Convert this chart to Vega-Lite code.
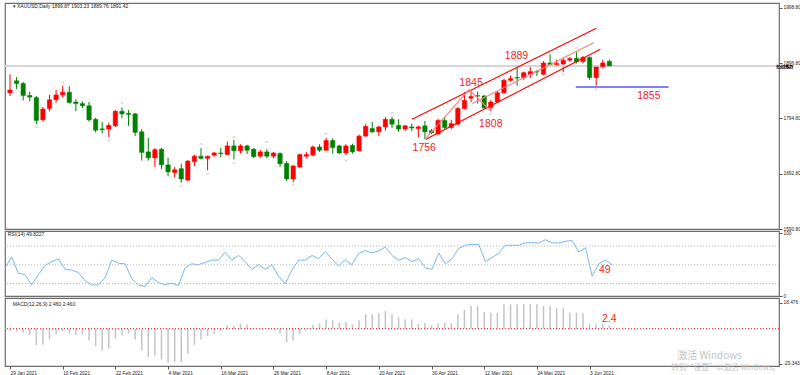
{
"$schema": "https://vega.github.io/schema/vega-lite/v6.json",
"background": "white",
"padding": {"left": 2, "top": 2, "right": 0, "bottom": 0},
"spacing": 2,
"bounds": "flush",
"config": {
  "view": {"stroke": "#6e6e6e", "strokeWidth": 1.2},
  "text": {"font": "Liberation Sans"},
  "axis": {"labelFont": "Liberation Sans", "labelFontSize": 4.8, "labelColor": "#1a1a1a", "tickColor": "#555555", "tickSize": 3, "labelPadding": 1, "grid": false, "domain": false, "labelOverlap": false, "labelBound": false, "labelFlush": false}
},
"datasets": {
  "bars": [
    {"i":0,"d":"2021-01-29","o":1842,"h":1876,"l":1836,"c":1847,"rsi":45.0,"macd":-1.5},
    {"i":1,"d":"2021-02-01","o":1864,"h":1871,"l":1849,"c":1859,"rsi":62.4,"macd":-2.15},
    {"i":2,"d":"2021-02-02","o":1859,"h":1862,"l":1828,"c":1837,"rsi":36.6,"macd":-2.87},
    {"i":3,"d":"2021-02-03","o":1837,"h":1844,"l":1826,"c":1834,"rsi":34.1,"macd":-4.54},
    {"i":4,"d":"2021-02-04","o":1833,"h":1836,"l":1784,"c":1791,"rsi":17.7,"macd":-11.71},
    {"i":5,"d":"2021-02-05","o":1792,"h":1816,"l":1789,"c":1812,"rsi":34.1,"macd":-11.23},
    {"i":6,"d":"2021-02-08","o":1813,"h":1838,"l":1808,"c":1829,"rsi":49.0,"macd":-7.65},
    {"i":7,"d":"2021-02-09","o":1829,"h":1847,"l":1824,"c":1838,"rsi":54.9,"macd":-4.06},
    {"i":8,"d":"2021-02-10","o":1838,"h":1855,"l":1833,"c":1843,"rsi":58.9,"macd":-1.67},
    {"i":9,"d":"2021-02-11","o":1843,"h":1854,"l":1822,"c":1824,"rsi":43.0,"macd":-3.35},
    {"i":10,"d":"2021-02-12","o":1825,"h":1830,"l":1808,"c":1822,"rsi":41.5,"macd":-4.54},
    {"i":11,"d":"2021-02-15","o":1822,"h":1826,"l":1814,"c":1818,"rsi":37.6,"macd":-4.06},
    {"i":12,"d":"2021-02-16","o":1818,"h":1825,"l":1789,"c":1792,"rsi":24.2,"macd":-8.37},
    {"i":13,"d":"2021-02-17","o":1793,"h":1796,"l":1769,"c":1773,"rsi":17.7,"macd":-12.43},
    {"i":14,"d":"2021-02-18","o":1775.5,"h":1788,"l":1767,"c":1774,"rsi":17.7,"macd":-15.54},
    {"i":15,"d":"2021-02-19","o":1775,"h":1787,"l":1760,"c":1782,"rsi":29.1,"macd":-14.1},
    {"i":16,"d":"2021-02-22","o":1781,"h":1810,"l":1779,"c":1808,"rsi":57.4,"macd":-7.17},
    {"i":17,"d":"2021-02-23","o":1808,"h":1815,"l":1795,"c":1803,"rsi":52.5,"macd":-4.78},
    {"i":18,"d":"2021-02-24","o":1804,"h":1810,"l":1781,"c":1802,"rsi":51.5,"macd":-3.59},
    {"i":19,"d":"2021-02-25","o":1803,"h":1805,"l":1762,"c":1769,"rsi":27.7,"macd":-7.65},
    {"i":20,"d":"2021-02-26","o":1770,"h":1775,"l":1717,"c":1732,"rsi":17.7,"macd":-15.54},
    {"i":21,"d":"2021-03-01","o":1733,"h":1759,"l":1717,"c":1722,"rsi":15.2,"macd":-20.3},
    {"i":22,"d":"2021-03-02","o":1722,"h":1740,"l":1705,"c":1737,"rsi":29.1,"macd":-19.1},
    {"i":23,"d":"2021-03-03","o":1738,"h":1740,"l":1701,"c":1709,"rsi":21.7,"macd":-22.0},
    {"i":24,"d":"2021-03-04","o":1709,"h":1722,"l":1688,"c":1696,"rsi":18.2,"macd":-24.4},
    {"i":25,"d":"2021-03-05","o":1695,"h":1705,"l":1686,"c":1700,"rsi":20.7,"macd":-23.9},
    {"i":26,"d":"2021-03-08","o":1702,"h":1711,"l":1676,"c":1683,"rsi":16.7,"macd":-23.9},
    {"i":27,"d":"2021-03-09","o":1681,"h":1718,"l":1679,"c":1716,"rsi":45.5,"macd":-17.9},
    {"i":28,"d":"2021-03-10","o":1715,"h":1728,"l":1707,"c":1725,"rsi":51.5,"macd":-11.7},
    {"i":29,"d":"2021-03-11","o":1725,"h":1740,"l":1719,"c":1721,"rsi":50.0,"macd":-7.65},
    {"i":30,"d":"2021-03-12","o":1721,"h":1726,"l":1699,"c":1725,"rsi":53.9,"macd":-5.26},
    {"i":31,"d":"2021-03-15","o":1727,"h":1733,"l":1724,"c":1731,"rsi":57.4,"macd":-3.59},
    {"i":32,"d":"2021-03-16","o":1731,"h":1740,"l":1723,"c":1730,"rsi":57.4,"macd":-1.67},
    {"i":33,"d":"2021-03-17","o":1728,"h":1752,"l":1727,"c":1744,"rsi":69.8,"macd":2.39},
    {"i":34,"d":"2021-03-18","o":1744,"h":1755,"l":1719,"c":1735,"rsi":57.4,"macd":1.91},
    {"i":35,"d":"2021-03-19","o":1735,"h":1747,"l":1730,"c":1744,"rsi":64.9,"macd":3.59},
    {"i":36,"d":"2021-03-22","o":1744,"h":1746,"l":1729,"c":1736,"rsi":54.9,"macd":3.11},
    {"i":37,"d":"2021-03-23","o":1738,"h":1740,"l":1722,"c":1724,"rsi":42.5,"macd":0.5},
    {"i":38,"d":"2021-03-24","o":1725,"h":1737,"l":1722,"c":1733,"rsi":50.0,"macd":0.3},
    {"i":39,"d":"2021-03-25","o":1733,"h":1738,"l":1721,"c":1725,"rsi":42.5,"macd":-0.3},
    {"i":40,"d":"2021-03-26","o":1725,"h":1733,"l":1721,"c":1731,"rsi":50.0,"macd":-1.0},
    {"i":41,"d":"2021-03-29","o":1730,"h":1732,"l":1705,"c":1711,"rsi":31.6,"macd":-3.35},
    {"i":42,"d":"2021-03-30","o":1712,"h":1716,"l":1679,"c":1683,"rsi":19.2,"macd":-9.56},
    {"i":43,"d":"2021-03-31","o":1683,"h":1709,"l":1677,"c":1707,"rsi":41.5,"macd":-8.37},
    {"i":44,"d":"2021-04-01","o":1705,"h":1730,"l":1704,"c":1728,"rsi":57.4,"macd":-3.59},
    {"i":45,"d":"2021-04-05","o":1725,"h":1733,"l":1721,"c":1728,"rsi":57.4,"macd":-0.96},
    {"i":46,"d":"2021-04-06","o":1727,"h":1745,"l":1725,"c":1742,"rsi":64.9,"macd":2.63},
    {"i":47,"d":"2021-04-07","o":1742,"h":1747,"l":1733,"c":1736,"rsi":59.9,"macd":3.82},
    {"i":48,"d":"2021-04-08","o":1736,"h":1759,"l":1735,"c":1754,"rsi":71.3,"macd":6.69},
    {"i":49,"d":"2021-04-09","o":1754,"h":1758,"l":1730,"c":1741,"rsi":58.9,"macd":5.98},
    {"i":50,"d":"2021-04-12","o":1744,"h":1746,"l":1729,"c":1731,"rsi":48.0,"macd":4.3},
    {"i":51,"d":"2021-04-13","o":1731,"h":1747,"l":1727,"c":1744,"rsi":57.9,"macd":4.78},
    {"i":52,"d":"2021-04-14","o":1745,"h":1748,"l":1730,"c":1733,"rsi":50.0,"macd":3.11},
    {"i":53,"d":"2021-04-15","o":1735,"h":1765,"l":1734,"c":1762,"rsi":67.8,"macd":5.98},
    {"i":54,"d":"2021-04-16","o":1762,"h":1784,"l":1761,"c":1780,"rsi":72.8,"macd":10.28},
    {"i":55,"d":"2021-04-19","o":1776,"h":1788,"l":1768,"c":1770,"rsi":68.8,"macd":10.28},
    {"i":56,"d":"2021-04-20","o":1770,"h":1781,"l":1762,"c":1779,"rsi":72.3,"macd":11.0},
    {"i":57,"d":"2021-04-21","o":1779,"h":1797,"l":1772,"c":1793,"rsi":78.7,"macd":12.67},
    {"i":58,"d":"2021-04-22","o":1793,"h":1798,"l":1777,"c":1784,"rsi":64.9,"macd":10.28},
    {"i":59,"d":"2021-04-23","o":1782,"h":1793,"l":1770,"c":1775,"rsi":57.4,"macd":8.37},
    {"i":60,"d":"2021-04-26","o":1775,"h":1783,"l":1771,"c":1781,"rsi":61.4,"macd":6.69},
    {"i":61,"d":"2021-04-27","o":1779,"h":1785,"l":1771,"c":1777,"rsi":54.9,"macd":6.69},
    {"i":62,"d":"2021-04-28","o":1776,"h":1781,"l":1760,"c":1779,"rsi":59.9,"macd":3.59},
    {"i":63,"d":"2021-04-29","o":1781,"h":1790,"l":1756,"c":1770,"rsi":45.0,"macd":4.06},
    {"i":64,"d":"2021-04-30","o":1772,"h":1775,"l":1766,"c":1768,"rsi":42.5,"macd":2.39},
    {"i":65,"d":"2021-05-03","o":1766,"h":1794,"l":1764,"c":1791,"rsi":68.8,"macd":3.82},
    {"i":66,"d":"2021-05-04","o":1791,"h":1798,"l":1774,"c":1778,"rsi":51.5,"macd":4.3},
    {"i":67,"d":"2021-05-05","o":1778,"h":1792,"l":1775,"c":1785,"rsi":59.9,"macd":3.82},
    {"i":68,"d":"2021-05-06","o":1784,"h":1816,"l":1782,"c":1813,"rsi":76.3,"macd":10.28},
    {"i":69,"d":"2021-05-07","o":1813,"h":1843,"l":1811,"c":1828,"rsi":81.2,"macd":13.38},
    {"i":70,"d":"2021-05-10","o":1832,"h":1845,"l":1825,"c":1835,"rsi":82.7,"macd":16.25},
    {"i":71,"d":"2021-05-11","o":1836.5,"h":1844,"l":1822,"c":1836,"rsi":82.7,"macd":16.25},
    {"i":72,"d":"2021-05-12","o":1836,"h":1838,"l":1813,"c":1814,"rsi":54.9,"macd":11.95},
    {"i":73,"d":"2021-05-13","o":1815,"h":1829,"l":1808,"c":1825,"rsi":61.4,"macd":11.47},
    {"i":74,"d":"2021-05-14","o":1825,"h":1845,"l":1823,"c":1842,"rsi":68.8,"macd":11.47},
    {"i":75,"d":"2021-05-17","o":1842,"h":1868,"l":1840,"c":1865,"rsi":81.2,"macd":17.45},
    {"i":76,"d":"2021-05-18","o":1865,"h":1874,"l":1862,"c":1868,"rsi":81.2,"macd":17.45},
    {"i":77,"d":"2021-05-19","o":1870,"h":1890,"l":1855,"c":1869,"rsi":81.2,"macd":17.45},
    {"i":78,"d":"2021-05-20","o":1870,"h":1881,"l":1866,"c":1879,"rsi":85.2,"macd":17.45},
    {"i":79,"d":"2021-05-21","o":1876,"h":1890,"l":1869,"c":1881,"rsi":85.2,"macd":17.45},
    {"i":80,"d":"2021-05-24","o":1881,"h":1884,"l":1873,"c":1880.5,"rsi":84.7,"macd":17.45},
    {"i":81,"d":"2021-05-25","o":1876,"h":1900,"l":1875,"c":1897,"rsi":90.1,"macd":16.25},
    {"i":82,"d":"2021-05-26","o":1897,"h":1913,"l":1892,"c":1894,"rsi":85.2,"macd":16.25},
    {"i":83,"d":"2021-05-27","o":1894,"h":1903,"l":1889,"c":1896,"rsi":84.7,"macd":14.58},
    {"i":84,"d":"2021-05-28","o":1895,"h":1906,"l":1880,"c":1902,"rsi":87.7,"macd":14.58},
    {"i":85,"d":"2021-05-31","o":1902,"h":1908,"l":1899,"c":1905,"rsi":88.7,"macd":11.47},
    {"i":86,"d":"2021-06-01","o":1905.5,"h":1917,"l":1896,"c":1899,"rsi":70.3,"macd":11.47},
    {"i":87,"d":"2021-06-02","o":1899.6,"h":1910,"l":1896,"c":1907,"rsi":77.3,"macd":11.0},
    {"i":88,"d":"2021-06-03","o":1907,"h":1909,"l":1866,"c":1870,"rsi":31.6,"macd":3.82},
    {"i":89,"d":"2021-06-04","o":1870,"h":1891,"l":1855,"c":1889.5,"rsi":51.5,"macd":3.11},
    {"i":90,"d":"2021-06-07","o":1890,"h":1903,"l":1887,"c":1897,"rsi":57.4,"macd":3.82},
    {"i":91,"d":"2021-06-08","o":1899.87,"h":1903.23,"l":1889.76,"c":1891.42,"rsi":49.8,"macd":2.46}
  ],
  "fractals": [
    {"i":8,"p":1860.5,"t":"up"},{"i":17,"p":1823.1,"t":"up"},{"i":29,"p":1747.0,"t":"up"},{"i":34,"p":1760.4,"t":"up"},
    {"i":39,"p":1751.2,"t":"up"},{"i":48,"p":1766.5,"t":"up"},{"i":58,"p":1805.2,"t":"up"},{"i":77,"p":1900.6,"t":"up"},{"i":86,"p":1924.5,"t":"up"},
    {"i":4,"p":1778.9,"t":"down"},{"i":15,"p":1754.4,"t":"down"},{"i":26,"p":1670.1,"t":"down"},{"i":30,"p":1692.8,"t":"down"},
    {"i":34,"p":1712.5,"t":"down"},{"i":43,"p":1671.9,"t":"down"},{"i":51,"p":1717.5,"t":"down"},{"i":63,"p":1749.9,"t":"down"},
    {"i":73,"p":1803.4,"t":"down"},{"i":84,"p":1876.0,"t":"down"},{"i":89,"p":1848.4,"t":"down"}
  ],
  "lines": [
    {"id":"upper","i":61.05,"p":1793.1},{"id":"upper","i":89.03,"p":1960.9},
    {"id":"lower","i":63.15,"p":1756.2},{"id":"lower","i":89.63,"p":1922.1},
    {"id":"middle","i":70.2,"p":1822.1},{"id":"middle","i":88.6,"p":1934.3},
    {"id":"zigzag","i":63.0,"p":1756},{"id":"zigzag","i":69.7,"p":1848},{"id":"zigzag","i":73.0,"p":1808},
    {"id":"support","i":85.9,"p":1852.6},{"id":"support","i":100.0,"p":1852.6}
  ]
},
"vconcat": [
  {
    "width": 774, "height": 226,
    "layer": [
      {"data": {"name": "bars"}, "mark": {"type": "rule", "strokeWidth": 1, "clip": true},
       "encoding": {
         "x": {"field": "i", "type": "quantitative", "scale": {"domain": [0, 116.0], "nice": false, "zero": false}, "axis": null},
         "y": {"field": "l", "type": "quantitative", "scale": {"domain": [1590.8, 2007.5], "nice": false, "zero": false},
               "axis": {"orient": "right", "title": null, "values": [1590.8,1616.3,1641.8,1667.3,1692.8,1718.3,1743.8,1769.3,1794.8,1820.3,1845.8,1871.3,1896.8,1922.3,1947.8,1973.3,1998.8], "format": ".2f", "labelOverlap": false}},
         "y2": {"field": "h"},
         "color": {"condition": {"test": "datum.c >= datum.o", "value": "#ff0000"}, "value": "#008000"}}},
      {"data": {"values": [{"p": 1891.42}]}, "mark": {"type": "rule", "color": "#d6d6d6", "strokeWidth": 2},
       "encoding": {"y": {"field": "p", "type": "quantitative", "scale": {"domain": [1590.8, 2007.5], "nice": false, "zero": false}}}},
      {"data": {"name": "bars"}, "mark": {"type": "bar", "size": 4.4, "strokeWidth": 0.5, "clip": true},
       "encoding": {
         "x": {"field": "i", "type": "quantitative", "scale": {"domain": [0, 116.0], "nice": false, "zero": false}, "axis": null},
         "y": {"field": "o", "type": "quantitative", "scale": {"domain": [1590.8, 2007.5], "nice": false, "zero": false}},
         "y2": {"field": "c"},
         "fill": {"condition": {"test": "datum.c >= datum.o", "value": "#ff0000"}, "value": "#008000"},
         "stroke": {"condition": {"test": "datum.c >= datum.o", "value": "#ff0000"}, "value": "#008000"}}},
      {"data": {"name": "fractals"}, "mark": {"type": "point", "filled": false, "size": 9, "strokeWidth": 0.8, "color": "#a0a0a0", "clip": true},
       "encoding": {
         "x": {"field": "i", "type": "quantitative", "scale": {"domain": [0, 116.0], "nice": false, "zero": false}, "axis": null},
         "y": {"field": "p", "type": "quantitative", "scale": {"domain": [1590.8, 2007.5], "nice": false, "zero": false}},
         "shape": {"field": "t", "type": "nominal", "scale": {"domain": ["up", "down"], "range": ["M-1,0.6L0,-0.6L1,0.6", "M-1,-0.6L0,0.6L1,-0.6"]}, "legend": null}}},
      {"data": {"name": "lines"}, "mark": {"type": "line", "strokeWidth": 1.2, "clip": true},
       "encoding": {
         "x": {"field": "i", "type": "quantitative", "scale": {"domain": [0, 116.0], "nice": false, "zero": false}, "axis": null},
         "y": {"field": "p", "type": "quantitative", "scale": {"domain": [1590.8, 2007.5], "nice": false, "zero": false}},
         "color": {"field": "id", "type": "nominal", "scale": {"domain": ["upper", "lower", "middle", "zigzag", "support"], "range": ["#ff0000", "#ff0000", "#ff8080", "#ff8080", "#0000ff"]}, "legend": null}}},
      {"data": {"values": [
         {"t": "1889", "i": 76.9, "p": 1909.8}, {"t": "1845", "i": 70.0, "p": 1860.0},
         {"t": "1808", "i": 73.0, "p": 1785.3}, {"t": "1756", "i": 62.9, "p": 1740.2}, {"t": "1855", "i": 97.0, "p": 1836.0}]},
       "mark": {"type": "text", "fontSize": 10.5, "color": "#f01e1e", "align": "center", "baseline": "middle"},
       "encoding": {
         "x": {"field": "i", "type": "quantitative", "scale": {"domain": [0, 116.0], "nice": false, "zero": false}, "axis": null},
         "y": {"field": "p", "type": "quantitative", "scale": {"domain": [1590.8, 2007.5], "nice": false, "zero": false}},
         "text": {"field": "t"}}},
      {"data": {"values": [{"t": "▾ XAUUSD,Daily  1899.87 1903.23 1889.76 1891.42", "i": 0.4, "p": 2002}]},
       "mark": {"type": "text", "fontSize": 5, "color": "#222222", "align": "left", "baseline": "middle"},
       "encoding": {
         "x": {"field": "i", "type": "quantitative", "scale": {"domain": [0, 116.0], "nice": false, "zero": false}, "axis": null},
         "y": {"field": "p", "type": "quantitative", "scale": {"domain": [1590.8, 2007.5], "nice": false, "zero": false}},
         "text": {"field": "t"}}},
      {"data": {"values": [{"i": 116.4, "i2": 118.9, "p": 1886.6, "p2": 1893.6}]},
       "mark": {"type": "rect", "color": "#000000"},
       "encoding": {
         "x": {"field": "i", "type": "quantitative", "scale": {"domain": [0, 116.0], "nice": false, "zero": false}, "axis": null},
         "x2": {"field": "i2"},
         "y": {"field": "p", "type": "quantitative", "scale": {"domain": [1590.8, 2007.5], "nice": false, "zero": false}},
         "y2": {"field": "p2"}}},
      {"data": {"values": [{"t": "1891.42", "i": 117.65, "p": 1890.1}]},
       "mark": {"type": "text", "fontSize": 4.5, "color": "#ffffff", "align": "center", "baseline": "middle"},
       "encoding": {
         "x": {"field": "i", "type": "quantitative", "scale": {"domain": [0, 116.0], "nice": false, "zero": false}, "axis": null},
         "y": {"field": "p", "type": "quantitative", "scale": {"domain": [1590.8, 2007.5], "nice": false, "zero": false}},
         "text": {"field": "t"}}}
    ]
  },
  {
    "width": 774, "height": 65,
    "layer": [
      {"data": {"values": [{"v": 20}, {"v": 50}, {"v": 80}]}, "mark": {"type": "rule", "color": "#b8b8b8", "strokeDash": [1, 2], "strokeWidth": 1},
       "encoding": {"y": {"field": "v", "type": "quantitative", "scale": {"domain": [0, 104], "nice": false, "zero": false},
                          "axis": {"orient": "right", "title": null, "values": [0, 20, 50, 80, 100], "labelOverlap": false}}}},
      {"data": {"name": "bars"}, "mark": {"type": "line", "color": "#79b6f2", "strokeWidth": 1},
       "encoding": {
         "x": {"field": "i", "type": "quantitative", "scale": {"domain": [0, 116.0], "nice": false, "zero": false}, "axis": null},
         "y": {"field": "rsi", "type": "quantitative", "scale": {"domain": [0, 104], "nice": false, "zero": false}}}},
      {"data": {"values": [{"t": "RSI(14) 49.8227", "i": 0.4, "v": 98.5}]},
       "mark": {"type": "text", "fontSize": 5, "color": "#222222", "align": "left", "baseline": "middle"},
       "encoding": {
         "x": {"field": "i", "type": "quantitative", "scale": {"domain": [0, 116.0], "nice": false, "zero": false}, "axis": null},
         "y": {"field": "v", "type": "quantitative", "scale": {"domain": [0, 104], "nice": false, "zero": false}},
         "text": {"field": "t"}}},
      {"data": {"values": [{"t": "49", "i": 89.9, "v": 41.6}]},
       "mark": {"type": "text", "fontSize": 10.5, "color": "#f01e1e", "align": "center", "baseline": "middle"},
       "encoding": {
         "x": {"field": "i", "type": "quantitative", "scale": {"domain": [0, 116.0], "nice": false, "zero": false}, "axis": null},
         "y": {"field": "v", "type": "quantitative", "scale": {"domain": [0, 104], "nice": false, "zero": false}},
         "text": {"field": "t"}}}
    ]
  },
  {
    "width": 774, "height": 68,
    "layer": [
      {"data": {"name": "bars"}, "mark": {"type": "bar", "size": 1.5, "color": "#c4c4c4"},
       "encoding": {
         "x": {"field": "i", "type": "quantitative", "scale": {"domain": [0, 116.0], "nice": false, "zero": false},
               "axis": {"orient": "bottom", "title": null, "values": [0,4,8,12,16,20,24,28,32,36,40,44,48,52,56,60,64,68,72,76,80,84,88],
                        "labelExpr": "['29 Jan 2021','4 Feb 2021','10 Feb 2021','16 Feb 2021','22 Feb 2021','26 Feb 2021','4 Mar 2021','10 Mar 2021','16 Mar 2021','22 Mar 2021','26 Mar 2021','1 Apr 2021','8 Apr 2021','14 Apr 2021','20 Apr 2021','26 Apr 2021','30 Apr 2021','6 May 2021','12 May 2021','18 May 2021','24 May 2021','28 May 2021','3 Jun 2021'][round(datum.value/4)]",
                        "labelAlign": "left", "labelOverlap": false}},
         "y": {"field": "macd", "type": "quantitative", "scale": {"domain": [-26.7, 22.0], "nice": false, "zero": false},
               "axis": {"orient": "right", "title": null, "values": [18.6, 0, -25.1], "labelExpr": "datum.value > 10 ? '18.476' : (datum.value < -10 ? '-29.343' : '0.00')", "labelOverlap": false}},
         "y2": {"datum": 0}}},
      {"data": {"values": [{"v": 0}]}, "mark": {"type": "rule", "color": "#ff0000", "strokeDash": [1, 2], "strokeWidth": 1},
       "encoding": {"y": {"field": "v", "type": "quantitative", "scale": {"domain": [-26.7, 22.0], "nice": false, "zero": false}}}},
      {"data": {"values": [{"t": "MACD(12,26,9) 2.460 2.460", "i": 0.4, "v": 17.5}]},
       "mark": {"type": "text", "fontSize": 5, "color": "#222222", "align": "left", "baseline": "middle"},
       "encoding": {
         "x": {"field": "i", "type": "quantitative", "scale": {"domain": [0, 116.0], "nice": false, "zero": false}},
         "y": {"field": "v", "type": "quantitative", "scale": {"domain": [-26.7, 22.0], "nice": false, "zero": false}},
         "text": {"field": "t"}}},
      {"data": {"values": [{"t": "2.4", "i": 91.0, "v": 7.3}]},
       "mark": {"type": "text", "fontSize": 10.5, "color": "#f01e1e", "align": "center", "baseline": "middle"},
       "encoding": {
         "x": {"field": "i", "type": "quantitative", "scale": {"domain": [0, 116.0], "nice": false, "zero": false}},
         "y": {"field": "v", "type": "quantitative", "scale": {"domain": [-26.7, 22.0], "nice": false, "zero": false}},
         "text": {"field": "t"}}},
      {"data": {"values": [{"t": "激活 Windows", "i": 101.3, "v": -19.5, "s": "a"}, {"t": "转到“设置”以激活 Windows。", "i": 100.4, "v": -28.3, "s": "b"}]},
       "mark": {"type": "text", "font": "Noto Sans CJK SC", "color": "#c4c4c4", "align": "left", "baseline": "middle"},
       "encoding": {
         "x": {"field": "i", "type": "quantitative", "scale": {"domain": [0, 116.0], "nice": false, "zero": false}},
         "y": {"field": "v", "type": "quantitative", "scale": {"domain": [-26.7, 22.0], "nice": false, "zero": false}},
         "size": {"field": "s", "type": "nominal", "scale": {"domain": ["a", "b"], "range": [10, 7.5]}, "legend": null},
         "text": {"field": "t"}}}
    ]
  }
]
}
